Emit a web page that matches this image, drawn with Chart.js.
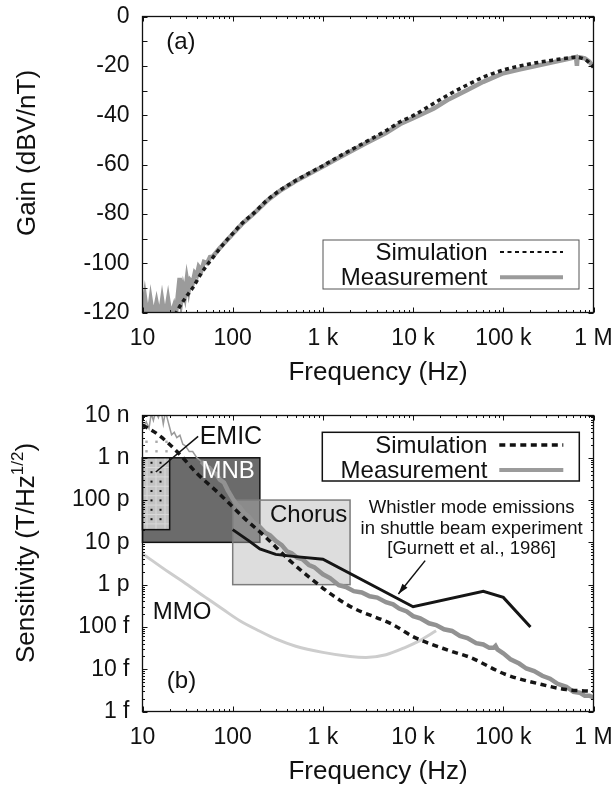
<!DOCTYPE html>
<html lang="en">
<head>
<meta charset="UTF-8">
<script src="https://cdn.jsdelivr.net/npm/chart.js"></script>
<title>Gain and sensitivity</title>
<style>
    body {
        margin: 0;
        background: #fff;
    }
    canvas {
        display: block;
    }
</style>
</head>
<body>
<canvas id="gain" width="613" height="390"></canvas>
<canvas id="sens" width="613" height="399"></canvas>
<script>
    // ---- shared frequency axis ----
    const freqTicks = [10, 100, 1e3, 1e4, 1e5, 1e6];
    const freqTickLabels = ['10', '100', '1 k', '10 k', '100 k', '1 M'];
    const legendLabels = ['Simulation', 'Measurement'];

    // ---- panel (a): gain ----
    const gainTicks = [-120, -100, -80, -60, -40, -20, 0];
    const gainSimFreq = [23, 25, 30, 36, 45, 60, 80, 100, 130, 170, 240, 330, 500, 1000, 1500, 3000, 5000, 7200,
        10000, 17000, 25000, 40000, 60000, 100000, 150000, 220000, 350000, 500000, 630000, 750000, 850000, 1000000];
    const gainSimDb = [-121, -118.5, -114, -110, -104, -97.8, -92, -88, -83.5, -79.8, -74.5, -70.6, -66.5, -60.5, -56.8, -50.8, -46.3, -42.7,
        -40.2, -35.2, -31.6, -27.7, -24.6, -21.7, -20.1, -18.9, -17.7, -16.9, -16.5, -17, -18, -20.5];
    const gainMeasFreq = [10, 10.6, 11.2, 11.8, 12.3, 12.9, 13.6, 14.3, 15, 15.8, 16.5, 17.3, 18.2, 19.2, 20.2, 21.2, 22.3, 23.4,
        24.5, 25.8, 27, 28.3, 29.5, 31, 32.5, 34, 36, 38, 40, 42, 45, 48, 52, 56, 60, 70, 80, 100, 130, 170, 240, 330, 500,
        1000, 1500, 3000, 5000, 7200, 10000, 17000, 25000, 40000, 60000, 100000, 150000, 220000, 350000, 500000,
        640000, 655000, 665000, 700000, 800000, 900000, 1000000];
    const gainMeasDb = [-120, -113.5, -120, -120, -115, -120, -120, -116, -120, -120, -115, -120, -120, -114.7, -120, -120, -117.5, -121,
        -114, -106, -115, -110, -113, -106.5, -111, -107, -108, -104, -105, -101.5, -103, -99.5, -100, -97.5, -97.4, -94.3, -92, -88.2, -83.7, -80, -74.7, -70.8, -66.7,
        -60.8, -57.3, -51.4, -47.2, -43.6, -41.2, -37.3, -33.5, -29.8, -26.5, -23, -21.5, -20.2, -18.6, -17.4,
        -16.4, -20, -16.5, -16.5, -17, -18.3, -20.5];

    // ---- panel (b): sensitivity (T/Hz^1/2) ----
    const sensTicks = [1e-15, 1e-14, 1e-13, 1e-12, 1e-11, 1e-10, 1e-9, 1e-8];
    const sensTickLabels = ['1 f', '10 f', '100 f', '1 p', '10 p', '100 p', '1 n', '10 n'];
    const sensSimFreq = [10, 15, 25, 40, 70, 130, 230, 430, 780, 1300, 2100, 5800, 10500, 26000, 43000, 105000, 260000, 500000, 1000000];
    const sensSimVal = [6.0e-9, 3.5e-9, 1.3e-9, 4.3e-10, 1.45e-10, 4.0e-11, 1.35e-11, 3.7e-12, 1.26e-12, 5.5e-13, 2.9e-13, 1.17e-13,
        5.6e-14, 2.7e-14, 1.9e-14, 7.6e-15, 4.4e-15, 3.3e-15, 3.0e-15];
    const sensMeasLowFreq = [10, 11, 11.8, 12.5, 13.2, 14, 15, 16, 17, 18, 19, 20, 21, 22.5, 24, 26, 28, 30, 33, 36, 40, 45];
    const sensMeasLowVal = [4.6e-9, 7.1e-9, 5.0e-9, 1.1e-8, 7.6e-9, 1.26e-8, 8.9e-9, 1.4e-8, 6.3e-9, 1.26e-8, 7.9e-9, 5.2e-9,
        3.5e-9, 4.0e-9, 3.0e-9, 3.4e-9, 2.1e-9, 1.9e-9, 1.4e-9, 1.4e-9, 1.0e-9, 8.2e-10];
    const sensMeasFreq = [45, 50, 55, 60, 66, 72, 80, 88, 100, 110, 120, 135, 150, 170, 200, 230, 260, 300, 350, 400,
        450, 520, 600, 700, 800, 1000, 1200, 1500, 1800, 2200, 2700, 3300, 4000, 5000, 6000, 7000, 8500, 10000, 12000, 15000,
        18000, 22000, 27000, 33000, 40000, 50000, 60000, 70000, 78000, 82000, 86000, 100000, 120000, 150000, 180000, 220000,
        270000, 330000, 400000, 500000, 600000, 700000, 800000, 900000, 1000000];
    const sensMeasVal = [8.22e-10, 6.38e-10, 5.82e-10, 4.62e-10, 4.12e-10, 3.05e-10, 2.6e-10, 1.72e-10, 1.08e-10, 8.04e-11,
        6.84e-11, 4.84e-11, 4.12e-11, 2.92e-11, 2.32e-11, 1.68e-11, 1.46e-11, 1.08e-11, 8.61e-12, 6.1e-12,
        5.56e-12, 4.32e-12, 3.94e-12, 2.92e-12, 2.6e-12, 1.76e-12, 1.43e-12, 9.66e-13, 8.81e-13, 7.0e-13,
        6.53e-13, 5.31e-13, 4.95e-13, 3.85e-13, 3.43e-13, 2.72e-13, 2.32e-13, 1.8e-13, 1.6e-13, 1.22e-13,
        1.11e-13, 8.81e-14, 8.04e-14, 6.1e-14, 5.43e-14, 4.12e-14, 3.85e-14, 3.2e-14, 3.2e-14, 3.55e-14,
        2.95e-14, 2.37e-14, 1.72e-14, 1.36e-14, 1.04e-14, 9.02e-15, 7.0e-15, 5.96e-15, 4.52e-15, 3.85e-15,
        2.92e-15, 2.79e-15, 2.37e-15, 2.37e-15, 2.14e-15];
    // whistler mode emissions, Gurnett et al. 1986
    const whistlerFreq = [100, 150, 200, 300, 500, 1000, 10000, 60000, 100000, 200000];
    const whistlerVal = [2.0e-11, 1.1e-11, 7.0e-12, 5.2e-12, 4.6e-12, 4.0e-12, 3.0e-13, 7.0e-13, 5.0e-13, 1.0e-13];
    const mmoFreq = [10, 20, 30, 50, 80, 120, 200, 300, 500, 1000, 2000, 3000, 5000, 8000, 12000, 18000];
    const mmoVal = [5.4e-12, 1.9e-12, 1.07e-12, 5.0e-13, 2.5e-13, 1.4e-13, 7.9e-14, 5.2e-14, 3.5e-14, 2.5e-14, 2.0e-14, 1.9e-14,
        2.2e-14, 3.2e-14, 4.8e-14, 8.1e-14];
    // wave regions
    const regionNames = ['MNB', 'EMIC', 'Chorus'];
    const regionFreqLo = [10, 10, 100];
    const regionFreqHi = [200, 20, 2000];
    const regionSensLo = [1e-11, 2e-11, 1e-12];
    const regionSensHi = [1e-9, 1e-9, 1e-10];

    const FONT = "'Liberation Sans', Arial, Helvetica, sans-serif";
    const INK = '#111';

    function pts(xs, ys) {
        return xs.map((x, i) => ({x: x, y: ys[i]}));
    }

    function minorsOf(lo, hi) {
        let out = [];
        for (let d = lo; d < hi * 0.99; d *= 10) {
            for (let k = 2; k <= 9; k++) {
                out.push(d * k);
            }
        }
        return out;
    }

    function line(ctx, x1, y1, x2, y2) {
        ctx.moveTo(x1, y1);
        ctx.lineTo(x2, y2);
    }

    // gnuplot-like frame with inward ticks on all four sides
    function framePlugin(xMajor, xMinor, yMajor, yMinor) {
        return {
            id: 'frame',
            afterDatasetsDraw(chart) {
                const ctx = chart.ctx, a = chart.chartArea;
                const x = chart.scales.x, y = chart.scales.y;
                ctx.save();
                ctx.strokeStyle = INK;
                ctx.lineWidth = 1;
                ctx.beginPath();
                xMajor.forEach(v => {
                    const p = Math.round(x.getPixelForValue(v)) + 0.5;
                    line(ctx, p, a.bottom, p, a.bottom - 5);
                    line(ctx, p, a.top, p, a.top + 5);
                });
                xMinor.forEach(v => {
                    const p = Math.round(x.getPixelForValue(v)) + 0.5;
                    line(ctx, p, a.bottom, p, a.bottom - 2.5);
                    line(ctx, p, a.top, p, a.top + 2.5);
                });
                yMajor.forEach(v => {
                    const p = Math.round(y.getPixelForValue(v)) + 0.5;
                    line(ctx, a.left, p, a.left + 5, p);
                    line(ctx, a.right, p, a.right - 5, p);
                });
                yMinor.forEach(v => {
                    const p = Math.round(y.getPixelForValue(v)) + 0.5;
                    line(ctx, a.left, p, a.left + 2.5, p);
                    line(ctx, a.right, p, a.right - 2.5, p);
                });
                ctx.stroke();
                ctx.lineWidth = 1.3;
                ctx.strokeRect(a.left, a.top, a.right - a.left, a.bottom - a.top);
                ctx.restore();
            }
        };
    }

    // key box: text first, sample line after it, as in the original figure
    function keyPlugin(box, simStyle, measStyle) {
        return {
            id: 'keybox',
            afterDatasetsDraw(chart) {
                const ctx = chart.ctx, a = chart.chartArea;
                const right = a.right - box.insetRight;
                const left = right - box.w;
                const top = a.top + box.top;
                ctx.save();
                ctx.fillStyle = '#fff';
                ctx.fillRect(left, top, box.w, box.h);
                ctx.strokeStyle = box.border;
                ctx.lineWidth = box.borderWidth;
                ctx.strokeRect(left, top, box.w, box.h);
                ctx.font = '24px ' + FONT;
                ctx.fillStyle = INK;
                ctx.textAlign = 'right';
                ctx.textBaseline = 'middle';
                const styles = [simStyle, measStyle];
                legendLabels.forEach((lab, i) => {
                    const cy = top + box.rows[i];
                    ctx.fillText(lab, left + box.textRight, cy + 1);
                    const s = styles[i];
                    ctx.beginPath();
                    ctx.setLineDash(s.dash || []);
                    ctx.lineCap = 'butt';
                    ctx.strokeStyle = s.color;
                    ctx.lineWidth = s.width;
                    line(ctx, left + box.sample[0], cy, left + box.sample[1], cy);
                    ctx.stroke();
                });
                ctx.restore();
            }
        };
    }

    function titlesPlugin(xTitle, yParts, xPos, yPos) {
        return {
            id: 'titles',
            afterDraw(chart) {
                const ctx = chart.ctx;
                ctx.save();
                ctx.fillStyle = INK;
                ctx.textBaseline = 'middle';
                ctx.textAlign = 'center';
                ctx.font = '26px ' + FONT;
                ctx.fillText(xTitle, xPos[0], xPos[1]);
                ctx.translate(yPos[0], yPos[1]);
                ctx.rotate(-Math.PI / 2);
                ctx.textAlign = 'left';
                let total = 0;
                yParts.forEach(p => {
                    ctx.font = p.size + 'px ' + FONT;
                    total += ctx.measureText(p.text).width;
                });
                let cx = -total / 2;
                yParts.forEach(p => {
                    ctx.font = p.size + 'px ' + FONT;
                    ctx.fillText(p.text, cx, -(p.rise || 0));
                    cx += ctx.measureText(p.text).width;
                });
                ctx.restore();
            }
        };
    }

    function notesPlugin(notes, pointers) {
        return {
            id: 'notes',
            afterDatasetsDraw(chart) {
                const ctx = chart.ctx;
                const x = chart.scales.x, y = chart.scales.y;
                ctx.save();
                notes.forEach(n => {
                    ctx.font = n.size + 'px ' + FONT;
                    ctx.fillStyle = n.color || INK;
                    ctx.textAlign = n.align || 'left';
                    ctx.textBaseline = 'middle';
                    ctx.fillText(n.text, x.getPixelForValue(n.f), y.getPixelForValue(n.v));
                });
                pointers.forEach(p => {
                    const x1 = x.getPixelForValue(p.from[0]), y1 = y.getPixelForValue(p.from[1]);
                    const x2 = x.getPixelForValue(p.to[0]), y2 = y.getPixelForValue(p.to[1]);
                    ctx.strokeStyle = INK;
                    ctx.fillStyle = INK;
                    ctx.lineWidth = 1.5;
                    ctx.beginPath();
                    line(ctx, x1, y1, x2, y2);
                    ctx.stroke();
                    if (p.head) {
                        const ang = Math.atan2(y2 - y1, x2 - x1);
                        ctx.beginPath();
                        ctx.moveTo(x2, y2);
                        ctx.lineTo(x2 - 11 * Math.cos(ang - 0.3), y2 - 11 * Math.sin(ang - 0.3));
                        ctx.lineTo(x2 - 11 * Math.cos(ang + 0.3), y2 - 11 * Math.sin(ang + 0.3));
                        ctx.closePath();
                        ctx.fill();
                    }
                });
                ctx.restore();
            }
        };
    }

    const regionPlugin = {
        id: 'regions',
        beforeDatasetsDraw(chart) {
            const ctx = chart.ctx;
            const x = chart.scales.x, y = chart.scales.y;
            const rect = name => {
                const i = regionNames.indexOf(name);
                const l = x.getPixelForValue(regionFreqLo[i]), r = x.getPixelForValue(regionFreqHi[i]);
                const t = y.getPixelForValue(regionSensHi[i]), b = y.getPixelForValue(regionSensLo[i]);
                return {l: l, t: t, w: r - l, h: b - t};
            };
            ctx.save();
            // MNB
            let r = rect('MNB');
            ctx.fillStyle = '#6b6b6b';
            ctx.fillRect(r.l, r.t, r.w, r.h);
            ctx.strokeStyle = INK;
            ctx.lineWidth = 1.5;
            ctx.strokeRect(r.l, r.t, r.w, r.h);
            // EMIC, dotted pattern
            r = rect('EMIC');
            ctx.fillStyle = '#c3c3c3';
            ctx.fillRect(r.l, r.t, r.w, r.h);
            ctx.strokeStyle = '#d9d9d9';
            ctx.lineWidth = 1;
            ctx.beginPath();
            for (let gx = r.l + 4.5; gx < r.l + r.w; gx += 9) {
                line(ctx, gx, r.t, gx, r.t + r.h);
            }
            for (let gy = r.t + 9.7; gy < r.t + r.h; gy += 9.4) {
                line(ctx, r.l, gy, r.l + r.w, gy);
            }
            ctx.stroke();
            ctx.fillStyle = '#111';
            for (let gy = r.t + 5; gy < r.t + r.h - 3; gy += 9.4) {
                for (let gx = r.l + 9; gx < r.l + r.w - 3; gx += 9) {
                    ctx.fillRect(gx - 1, gy - 1, 2, 2);
                }
            }
            ctx.fillStyle = '#a9a9a9';
            [6.5, 16].forEach(dy => {
                for (let gx = r.l + 4; gx < r.l + r.w; gx += 10) {
                    ctx.fillRect(gx - 1.2, r.t - dy - 1.2, 2.4, 2.4);
                }
            });
            ctx.strokeStyle = INK;
            ctx.lineWidth = 1.5;
            ctx.strokeRect(r.l, r.t, r.w, r.h);
            // Chorus, translucent
            r = rect('Chorus');
            ctx.fillStyle = 'rgba(180,180,180,0.45)';
            ctx.fillRect(r.l, r.t, r.w, r.h);
            ctx.strokeStyle = '#7c7c7c';
            ctx.lineWidth = 1.5;
            ctx.strokeRect(r.l, r.t, r.w, r.h);
            ctx.restore();
        }
    };

    function baseScales(yCfg) {
        return {
            x: {
                type: 'logarithmic',
                min: 10,
                max: 1e6,
                grid: {display: false, drawTicks: false},
                border: {display: false},
                ticks: {
                    font: {family: FONT, size: 23},
                    color: INK,
                    padding: 12,
                    maxRotation: 0,
                    autoSkip: false,
                    callback: (v, i) => freqTickLabels[i]
                },
                afterBuildTicks: s => {
                    s.ticks = freqTicks.map(v => ({value: v}));
                },
                afterFit: s => {
                    s.height = 77.5;
                    s.paddingLeft = 0;
                    s.paddingRight = 0;
                }
            },
            y: Object.assign({
                grid: {display: false, drawTicks: false},
                border: {display: false},
                afterFit: s => {
                    s.width = 142.5;
                    s.paddingTop = 0;
                    s.paddingBottom = 0;
                }
            }, yCfg)
        };
    }

    const yTickFont = {font: {family: FONT, size: 23}, color: INK, padding: 13, autoSkip: false};

    // ---------- (a) gain ----------
    new Chart(document.getElementById('gain'), {
        type: 'line',
        data: {
            datasets: [{
                label: legendLabels[0],
                data: pts(gainSimFreq, gainSimDb),
                borderColor: '#1a1a1a',
                borderWidth: 3.5,
                borderDash: [4, 3.5],
                borderCapStyle: 'butt',
                pointRadius: 0,
                cubicInterpolationMode: 'monotone',
                clip: 0
            }, {
                label: legendLabels[1],
                data: pts(gainMeasFreq, gainMeasDb),
                borderColor: '#9b9b9b',
                borderWidth: 4.5,
                pointRadius: 0,
                tension: 0,
                clip: 0
            }]
        },
        options: {
            responsive: false,
            animation: false,
            events: [],
            layout: {padding: {top: 16.5, right: 19.5, bottom: 0, left: 0}},
            plugins: {legend: {display: false}, tooltip: {enabled: false}},
            scales: baseScales({
                type: 'linear',
                min: -120,
                max: 0,
                ticks: yTickFont,
                afterBuildTicks: s => {
                    s.ticks = gainTicks.map(v => ({value: v}));
                }
            })
        },
        plugins: [
            framePlugin(freqTicks, minorsOf(10, 1e6), [-110, -90, -70, -50, -30, -10].concat(gainTicks), []),
            notesPlugin([{text: '(a)', f: 18.3, v: -10.5, size: 24}], []),
            keyPlugin({insetRight: 14.5, w: 256, top: 223.5, h: 49, border: '#555', borderWidth: 1,
                    textRight: 164.5, sample: [177, 240], rows: [12, 37.3]},
                {color: '#111', width: 2, dash: [4, 3.5]},
                {color: '#9b9b9b', width: 4}),
            titlesPlugin('Frequency (Hz)', [{text: 'Gain (dBV/nT)', size: 26}], [378, 373], [28, 153])
        ]
    });

    // ---------- (b) sensitivity ----------
    new Chart(document.getElementById('sens'), {
        type: 'line',
        data: {
            datasets: [{
                label: legendLabels[0],
                data: pts(sensSimFreq, sensSimVal),
                borderColor: '#151515',
                borderWidth: 3.5,
                borderDash: [6, 4.5],
                borderCapStyle: 'butt',
                pointRadius: 0,
                cubicInterpolationMode: 'monotone',
                clip: 0
            }, {
                label: 'Whistler',
                data: pts(whistlerFreq, whistlerVal),
                borderColor: '#151515',
                borderWidth: 3,
                pointRadius: 0,
                tension: 0,
                clip: 0
            }, {
                label: legendLabels[1],
                data: pts(sensMeasFreq, sensMeasVal),
                borderColor: '#929292',
                borderWidth: 4.5,
                pointRadius: 0,
                tension: 0,
                clip: 0
            }, {
                label: 'Measurement low',
                data: pts(sensMeasLowFreq, sensMeasLowVal),
                borderColor: '#9a9a9a',
                borderWidth: 1.5,
                pointRadius: 0,
                tension: 0,
                clip: 0
            }, {
                label: 'MMO',
                data: pts(mmoFreq, mmoVal),
                borderColor: '#cdcdcd',
                borderWidth: 3,
                pointRadius: 0,
                cubicInterpolationMode: 'monotone',
                clip: 0
            }]
        },
        options: {
            responsive: false,
            animation: false,
            events: [],
            layout: {padding: {top: 25.5, right: 19.5, bottom: 0, left: 0}},
            plugins: {legend: {display: false}, tooltip: {enabled: false}},
            scales: baseScales({
                type: 'logarithmic',
                min: 1e-15,
                max: 1e-8,
                ticks: Object.assign({callback: (v, i) => sensTickLabels[i]}, yTickFont),
                afterBuildTicks: s => {
                    s.ticks = sensTicks.map(v => ({value: v}));
                }
            })
        },
        plugins: [
            regionPlugin,
            framePlugin(freqTicks, minorsOf(10, 1e6), sensTicks, minorsOf(1e-15, 1e-8)),
            notesPlugin([
                {text: 'EMIC', f: 43, v: 3.1e-9, size: 25},
                {text: 'MNB', f: 45, v: 4.7e-10, size: 24, color: '#fff'},
                {text: 'Chorus', f: 259, v: 4.4e-11, size: 24},
                {text: 'MMO', f: 13, v: 2.2e-13, size: 24},
                {text: '(b)', f: 18.6, v: 5.2e-15, size: 24},
                {text: 'Whistler mode emissions', f: 44600, v: 6.6e-11, size: 18.5, align: 'center'},
                {text: 'in shuttle beam experiment', f: 44600, v: 2.1e-11, size: 18.5, align: 'center'},
                {text: '[Gurnett et al., 1986]', f: 44600, v: 7.1e-12, size: 18.5, align: 'center'}
            ], [
                {from: [41.4, 3.2e-9], to: [14.05, 4.6e-10], head: false},
                {from: [13600, 3.7e-12], to: [6870, 6.0e-13], head: true}
            ]),
            keyPlugin({insetRight: 14.2, w: 257, top: 16.8, h: 48.7, border: '#111', borderWidth: 1.5,
                    textRight: 165, sample: [177, 241], rows: [12.7, 37.7]},
                {color: '#111', width: 3.5, dash: [6, 4.5]},
                {color: '#9b9b9b', width: 4}),
            titlesPlugin('Frequency (Hz)', [
                {text: 'Sensitivity (T/Hz', size: 26},
                {text: '1/2', size: 17, rise: 9},
                {text: ')', size: 26}
            ], [378, 381.7], [27, 163])
        ]
    });
</script>
</body>
</html>
